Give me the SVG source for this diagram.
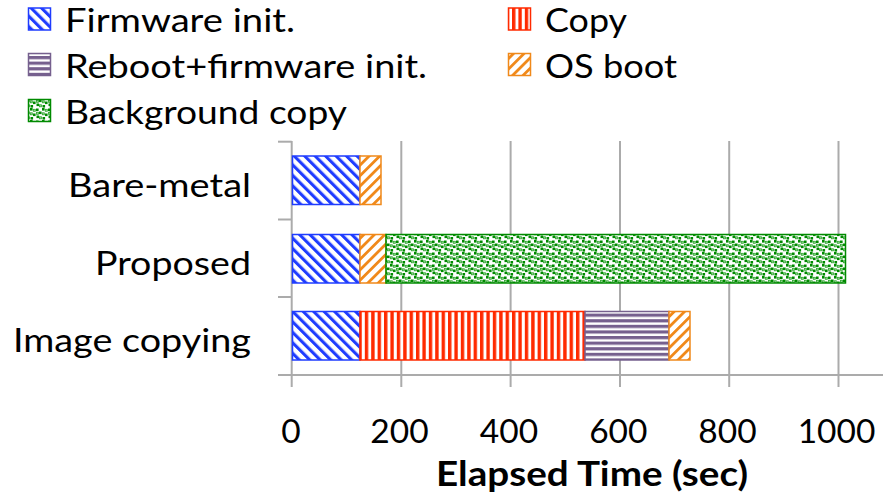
<svg xmlns="http://www.w3.org/2000/svg" width="883" height="496" viewBox="0 0 883 496">
  <defs>
    <!-- hatch fills for each phase -->
    <pattern id="pat-fw" patternUnits="userSpaceOnUse" width="7.4" height="10" patternTransform="rotate(-45)">
      <rect width="7.4" height="10" fill="#fff"/>
      <rect width="3.1" height="10" fill="#1f3cff"/>
    </pattern>
    <pattern id="pat-os" patternUnits="userSpaceOnUse" width="7.4" height="10" patternTransform="rotate(45)">
      <rect width="7.4" height="10" fill="#fff"/>
      <rect width="2.8" height="10" fill="#f0891a"/>
    </pattern>
    <pattern id="pat-copy" patternUnits="userSpaceOnUse" width="6.4" height="10">
      <rect width="6.4" height="10" fill="#fff"/>
      <rect width="3.4" height="10" fill="#ff2a00"/>
    </pattern>
    <pattern id="pat-reboot" patternUnits="userSpaceOnUse" width="10" height="5.6">
      <rect width="10" height="5.6" fill="#fff"/>
      <rect width="10" height="3.2" fill="#76608e"/>
    </pattern>
    <pattern id="pat-bg" patternUnits="userSpaceOnUse" width="12" height="12">
      <rect width="12" height="12" fill="#fff"/>
      <g fill="#008a00">
        <rect x="0" y="0.5" width="2.6" height="2.6"/>
        <rect x="6" y="0" width="2.6" height="2.6"/>
        <rect x="3" y="3.5" width="2.6" height="2.6"/>
        <rect x="9" y="5.5" width="2.6" height="2.6"/>
        <rect x="0.5" y="7.5" width="2.6" height="2.6"/>
        <rect x="6.5" y="9" width="2.6" height="2.6"/>
      </g>
      <g fill="#9ad89a" stroke="#2ea52e" stroke-width="0.8">
        <rect x="9.3" y="1.3" width="2" height="2"/>
        <rect x="0.5" y="4.3" width="2" height="2"/>
        <rect x="6.3" y="4.8" width="2" height="2"/>
        <rect x="3.5" y="8.8" width="2" height="2"/>
      </g>
    </pattern>
  </defs>
  <style>
    .lbl { font-family: Lato, "Liberation Sans", sans-serif; fill: #000; }
    .leg { font-size: 32px; }
    .cat { font-size: 32px; text-anchor: end; }
    .tick { font-size: 33.5px; text-anchor: middle; }
    .title { font-size: 35px; font-weight: bold; text-anchor: middle; }
    .grid { stroke: #ababab; stroke-width: 2; fill: none; }
    .fw { fill: url(#pat-fw); stroke: #1f3cff; stroke-width: 1.5; }
    .os { fill: url(#pat-os); stroke: #f0891a; stroke-width: 1.5; }
    .cp { fill: url(#pat-copy); stroke: #ff2a00; stroke-width: 1.5; }
    .rb { fill: url(#pat-reboot); stroke: #76608e; stroke-width: 1.5; }
    .bg { fill: url(#pat-bg); stroke: #008a00; stroke-width: 1.5; }
  </style>

  <rect width="883" height="496" fill="#fff"/>

  <!-- legend -->
  <g id="legend-firmware">
    <rect class="fw" x="28.5" y="8" width="22" height="22"/>
    <text class="lbl leg" x="65" y="32" textLength="230" lengthAdjust="spacingAndGlyphs">Firmware init.</text>
  </g>
  <g id="legend-reboot">
    <rect class="rb" x="28.5" y="53.5" width="22" height="22"/>
    <text class="lbl leg" x="65" y="77.5" textLength="362" lengthAdjust="spacingAndGlyphs">Reboot+firmware init.</text>
  </g>
  <g id="legend-background">
    <rect class="bg" x="28.5" y="99.5" width="22" height="22"/>
    <text class="lbl leg" x="65" y="124" textLength="282" lengthAdjust="spacingAndGlyphs">Background copy</text>
  </g>
  <g id="legend-copy">
    <rect class="cp" x="508.5" y="8" width="22" height="22"/>
    <text class="lbl leg" x="545" y="32" textLength="82" lengthAdjust="spacingAndGlyphs">Copy</text>
  </g>
  <g id="legend-osboot">
    <rect class="os" x="508.5" y="53.5" width="22" height="22"/>
    <text class="lbl leg" x="545" y="77.5" textLength="132" lengthAdjust="spacingAndGlyphs">OS boot</text>
  </g>

  <!-- grid and axes -->
  <g id="axes">
    <g class="grid">
      <line x1="401.3" y1="141" x2="401.3" y2="387"/>
      <line x1="510.6" y1="141" x2="510.6" y2="387"/>
      <line x1="620" y1="141" x2="620" y2="387"/>
      <line x1="729.2" y1="141" x2="729.2" y2="387"/>
      <line x1="838.5" y1="141" x2="838.5" y2="387"/>
      <line x1="291.7" y1="141" x2="291.7" y2="387"/>
      <line x1="278" y1="375" x2="883" y2="375"/>
      <line x1="278" y1="141.7" x2="291.7" y2="141.7"/>
      <line x1="278" y1="219.5" x2="291.7" y2="219.5"/>
      <line x1="278" y1="297" x2="291.7" y2="297"/>
    </g>
    <text class="lbl tick" x="291" y="443.3">0</text>
    <text class="lbl tick" x="399.5" y="443.3">200</text>
    <text class="lbl tick" x="509" y="443.3">400</text>
    <text class="lbl tick" x="618.3" y="443.3">600</text>
    <text class="lbl tick" x="727.5" y="443.3">800</text>
    <text class="lbl tick" x="836.5" y="443.3">1000</text>
    <text class="lbl title" x="592" y="486" textLength="312" lengthAdjust="spacingAndGlyphs">Elapsed Time (sec)</text>
  </g>

  <!-- category labels -->
  <g id="categories">
    <text class="lbl cat" x="251" y="197" textLength="183" lengthAdjust="spacingAndGlyphs">Bare-metal</text>
    <text class="lbl cat" x="251" y="275" textLength="156" lengthAdjust="spacingAndGlyphs">Proposed</text>
    <text class="lbl cat" x="251" y="352.3" textLength="238" lengthAdjust="spacingAndGlyphs">Image copying</text>
  </g>

  <!-- stacked bars -->
  <g id="bar-bare-metal">
    <rect class="fw" x="292.5" y="156" width="67.5" height="48.5"/>
    <rect class="os" x="360" y="156" width="21" height="48.5"/>
  </g>
  <g id="bar-proposed">
    <rect class="fw" x="292.5" y="234.5" width="67.5" height="48.5"/>
    <rect class="os" x="360" y="234.5" width="26" height="48.5"/>
    <rect class="bg" x="386" y="234.5" width="459.5" height="48.5"/>
  </g>
  <g id="bar-image-copying">
    <rect class="fw" x="292.5" y="311.5" width="67.5" height="48.5"/>
    <rect class="cp" x="360" y="311.5" width="225" height="48.5"/>
    <rect class="rb" x="585" y="311.5" width="84" height="48.5"/>
    <rect class="os" x="669" y="311.5" width="21" height="48.5"/>
  </g>
</svg>
